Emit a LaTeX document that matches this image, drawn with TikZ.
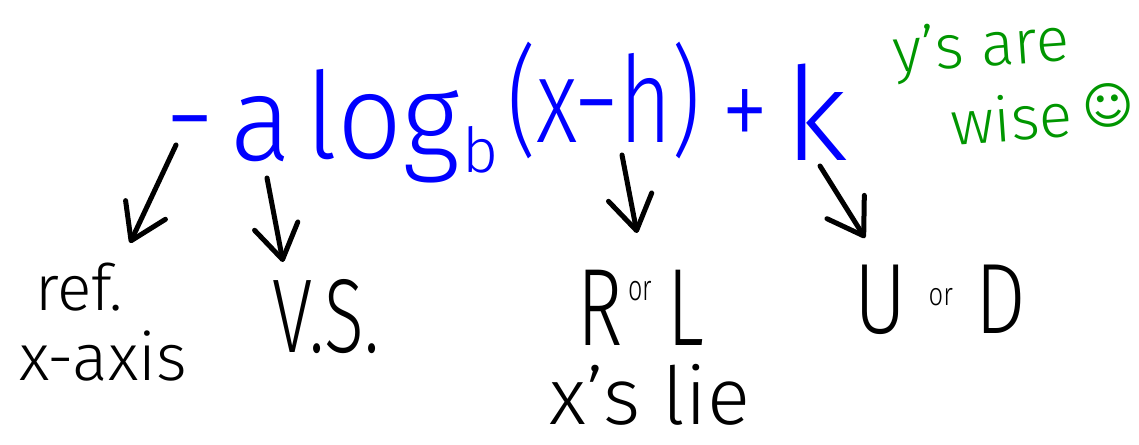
\documentclass[tikz,border=0pt]{standalone}
\usepackage{fontspec}
\usepackage{graphicx}
\setmainfont{Fira Sans Light}
\newfontfamily\symfont{DejaVu Sans}
\usetikzlibrary{arrows.meta}
\definecolor{penblue}{RGB}{0,0,255}
\definecolor{pengreen}{RGB}{0,150,0}
\newcommand{\squeeze}[2]{\scalebox{#1}[1]{#2}}
\newcommand{\fs}[1]{\fontsize{#1}{#1}\selectfont}

\begin{document}
\begin{tikzpicture}[x=1pt,y=-1pt,
    every node/.style={inner sep=0pt,anchor=base},
    formula/.style={penblue,font=\fs{120}},
    aside/.style={pengreen,font=\fontsize{62}{76}\selectfont,rotate=4,
      align=left,anchor=center},
    arr/.style={line width=5pt,line cap=round,line join=round,
      -{Straight Barb[length=34pt,width=44pt,round]}}]
  \useasboundingbox (0,0) rectangle (1139,444);
  % the transformed log
  \node[formula] (neg) at (190,158) {\squeeze{0.8}{−}};
  \node[formula] (stretch) at (261,160) {\squeeze{0.95}{a}};
  \node[formula] (logb) at (383,158) {\squeeze{0.95}{log}};
  \node[formula,font=\fs{62}] (sub) at (481,172) {b};
  \node[formula] (inner) at (604,142) {\squeeze{0.75}{(x−h)}};
  \node[formula] (plus) at (745,150) {\squeeze{0.8}{+}};
  \node[formula,font=\fs{130}] (shiftk) at (816,160) {k};
  % what each part does
  \node[font=\fs{64}] (refl) at (79,310) {ref.};
  \node[font=\fs{66}] (axis) at (103,380) {x-axis};
  \node[font=\fs{105}] (vs) at (326,352) {\squeeze{0.7}{V.S.}};
  \node[font=\fs{110}] (rl) at (641,345)
    {\squeeze{0.7}{R\hspace{8pt}\raisebox{45pt}{\fs{36}or}\hspace{22pt}L}};
  \node[font=\fs{80}] (lie) at (650,424) {x’s lie};
  \node[font=\fs{100}] (ud) at (940,333)
    {\squeeze{0.8}{U\hspace{28pt}\raisebox{28pt}{\fs{32}or}\hspace{28pt}D}};
  % side note
  \node[aside] (note) at (1014,80)
    {y’s are\\\hspace{52pt}wise\,\raisebox{10pt}{\fs{50}\symfont ☺}};
  % arrows
  \coordinate (refin) at (130,243);
  \coordinate (vsin) at (283,262);
  \coordinate (rlin) at (637,233);
  \coordinate (udin) at (865,238);
  \draw[arr] ([xshift=-14pt,yshift=13pt]neg.base) -- (refin);
  \draw[arr] ([xshift=6pt,yshift=-18pt]stretch.base) -- (vsin);
  \draw[arr] ([xshift=18pt,yshift=-13pt]inner.base) -- (rlin);
  \draw[arr] ([xshift=4pt,yshift=-6pt]shiftk.base) -- (udin);
\end{tikzpicture}
\end{document}
